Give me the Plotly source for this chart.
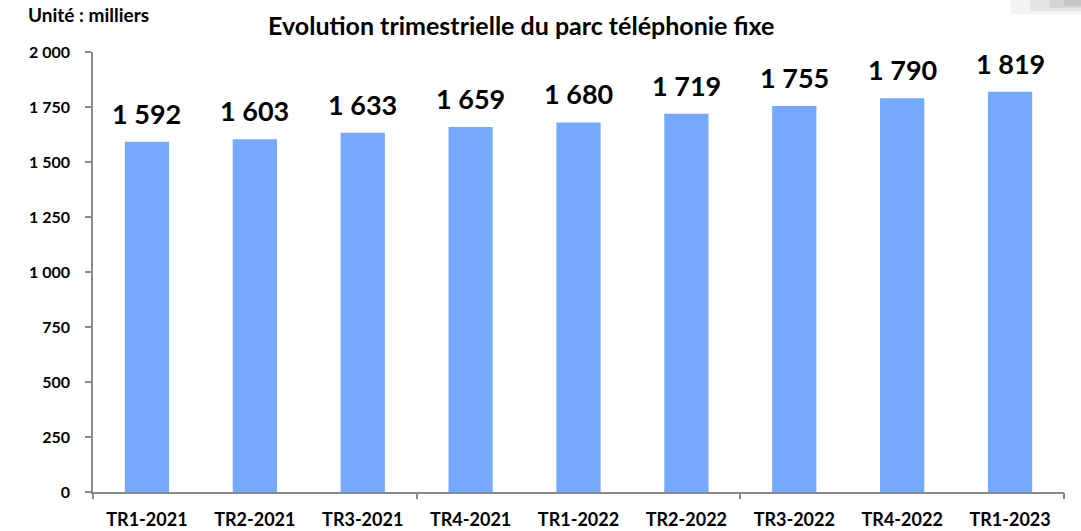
import plotly.graph_objects as go

categories = ["TR1-2021", "TR2-2021", "TR3-2021", "TR4-2021", "TR1-2022",
              "TR2-2022", "TR3-2022", "TR4-2022", "TR1-2023"]
values = [1592, 1603, 1633, 1659, 1680, 1719, 1755, 1790, 1819]
y_ticks = [0, 250, 500, 750, 1000, 1250, 1500, 1750, 2000]

FONT = "Lato"
BAR = "#74A9FF"
AXIS = "#8a8a8a"

def fmt(v):
    return f"{v:,}".replace(",", " ")

fig = go.Figure()
fig.add_trace(go.Bar(
    x=categories, y=values, marker=dict(color=BAR, line=dict(width=0)),
    width=0.41, hoverinfo="x+y", showlegend=False,
))
# invisible trace to activate the tick-only secondary x axis
fig.add_trace(go.Scatter(x=[-0.5, 8.5], y=[0, 0], xaxis="x2", mode="lines",
                         line=dict(width=0), hoverinfo="skip", showlegend=False))

for c, v in zip(categories, values):
    fig.add_annotation(x=c, y=v, text=fmt(v), showarrow=False, yanchor="bottom",
                       yshift=10, font=dict(family=FONT, size=27, color="#000000",
                                            weight="bold"))

fig.add_annotation(xref="paper", yref="paper", x=-0.069, y=1.085, xanchor="left",
                   yanchor="middle", text="Unité : milliers", showarrow=False,
                   font=dict(family=FONT, size=19, color="#000000", weight="bold"))

# faint grey decoration in the top-right corner
for x0, y0, op in [(0.945, 1.086, 0.10), (0.965, 1.093, 0.12),
                   (0.985, 1.100, 0.15), (1.0, 1.105, 0.18)]:
    fig.add_shape(type="rect", xref="paper", yref="paper", x0=x0, x1=1.02,
                  y0=y0, y1=1.13, fillcolor="#808080", opacity=op,
                  line=dict(width=0), layer="below")

fig.update_layout(
    width=1081, height=531,
    margin=dict(l=93, r=17, t=52, b=39, autoexpand=False),
    paper_bgcolor="white", plot_bgcolor="white",
    separators=". ",
    title=dict(text="Evolution trimestrielle du parc téléphonie fixe",
               xref="paper", x=0.441, xanchor="center", y=0.95, yanchor="middle",
               font=dict(family=FONT, size=25, color="#000000", weight="bold")),
    font=dict(family=FONT, color="#000000"),
    xaxis=dict(type="category", showline=True, linecolor=AXIS, linewidth=1.5,
               ticks="", showgrid=False, automargin=False,
               tickfont=dict(family=FONT, size=18, weight="bold"),
               ticklabelstandoff=11, range=[-0.5, 8.5]),
    xaxis2=dict(overlaying="x", range=[-0.5, 8.5], tickvals=[-0.5, 2.5, 5.5, 8.5],
                showticklabels=False, ticks="outside", ticklen=6, tickwidth=1.5,
                tickcolor=AXIS, showgrid=False, zeroline=False, side="bottom",
                anchor="y", automargin=False),
    yaxis=dict(range=[0, 2000], tickvals=y_ticks, showline=True, linecolor=AXIS,
               linewidth=1.5, ticks="outside", ticklen=6, tickwidth=1.5,
               tickcolor=AXIS, showgrid=False, zeroline=False, automargin=False,
               tickformat=",d",
               tickfont=dict(family=FONT, size=16, weight="bold"),
               ticklabelstandoff=12),
)

fig.write_html("out.html", config={"displayModeBar": False},
               post_script="document.body.style.margin='0';document.body.style.overflow='hidden';")
